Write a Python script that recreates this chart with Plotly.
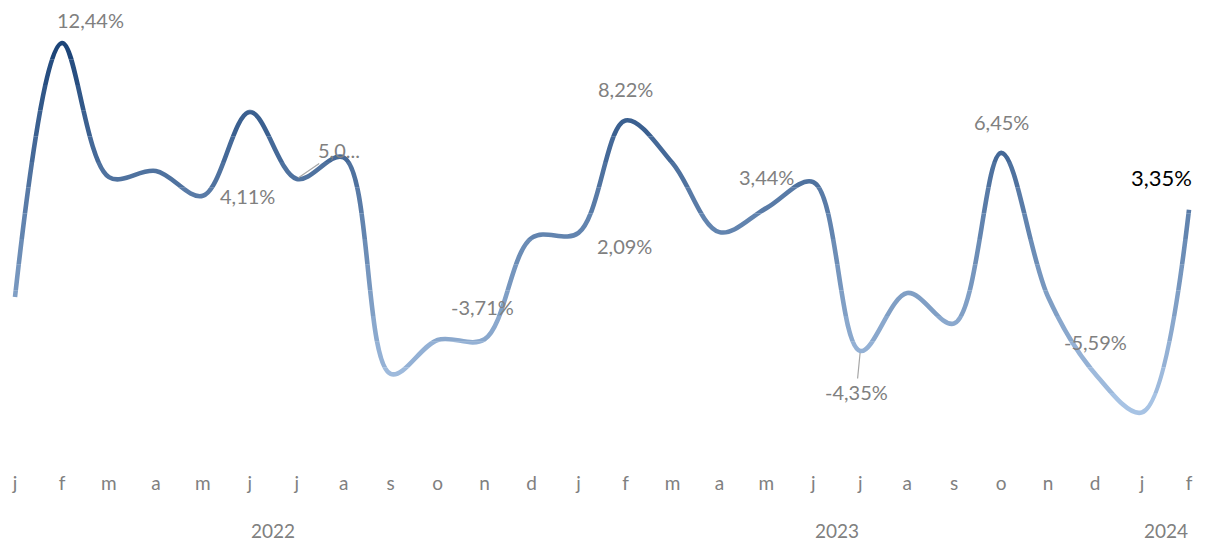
import plotly.graph_objects as go

# ---- data ----
months = ["j", "f", "m", "a", "m", "j", "j", "a", "s", "o", "n", "d",
          "j", "f", "m", "a", "m", "j", "j", "a", "s", "o", "n", "d",
          "j", "f"]
years = ["2022", "2023", "2024"]
year_month_counts = [12, 12, 2]
values = [-1.41, 12.44, 5.13, 5.46, 4.11, 8.68, 5.03, 6.20, -5.60, -3.75,
          -3.71, 1.81, 2.09, 8.22, 5.90, 2.13, 3.44, 4.86, -4.35, -1.19,
          -2.85, 6.45, -1.41, -5.59, -7.70, 3.35]
label_text = {1: "12,44%", 4: "4,11%", 6: "5,0...", 10: "-3,71%", 12: "2,09%",
              13: "8,22%", 16: "3,44%", 18: "-4,35%", 21: "6,45%", 23: "-5,59%",
              25: "3,35%"}
# label offsets in px (dx, dy) and whether a leader line is drawn
label_offset = {1: (29, -23, False), 4: (45, 0, False), 6: (42, -29, True),
                10: (-2, -32, False), 12: (46, 13, False), 13: (0, -31, False),
                16: (0, -31, False), 18: (-4, 41, True), 21: (0, -31, False),
                23: (0, -32, False), 25: (-28, -32, False)}

x = list(range(len(values)))

# ---- axis geometry (page has 8px body margin) ----
W, H = 1215, 535
mb = 73
plot_h = H - mb
px_per_unit = 18.34
zero_px = 263.2
v_top = zero_px / px_per_unit
v_bot = (zero_px - plot_h) / px_per_unit
step = 46.96
x0 = -7 / step
x1 = x0 + W / step

dark = (28, 68, 120)
light = (170, 197, 230)
vmin, vmax = min(values), max(values)


def col(t):
    t = max(0.0, min(1.0, t))
    r = [round(light[i] + (dark[i] - light[i]) * t) for i in range(3)]
    return f"rgb({r[0]},{r[1]},{r[2]})"


fig = go.Figure()
N = 18
d = (v_top - v_bot) / N
layout_axes = {}
for k in range(N):
    lo = v_bot + k * d
    hi = lo + d
    center = (lo + hi) / 2
    t = (center - vmin) / (vmax - vmin)
    yname = "y" if k == 0 else f"y{k + 1}"
    key = "yaxis" if k == 0 else f"yaxis{k + 1}"
    layout_axes[key] = dict(domain=[k / N, (k + 1) / N], range=[lo, hi],
                            visible=False, fixedrange=True, anchor="x")
    fig.add_trace(go.Scatter(
        x=x, y=values, xaxis="x", yaxis=yname, mode="lines",
        line=dict(color=col(t), width=4.6, shape="spline", smoothing=1.0,
                  simplify=False),
        hoverinfo="skip", showlegend=False))

# full-height axis for labels (own subplot, invisible)
lab_y = f"y{N + 1}"
layout_axes[f"yaxis{N + 1}"] = dict(domain=[0, 1], range=[v_bot, v_top],
                                    visible=False, anchor="x",
                                    fixedrange=True)
fig.add_trace(go.Scatter(x=[x[0]], y=[values[0]], xaxis="x", yaxis=lab_y,
                         mode="markers", marker=dict(opacity=0),
                         hoverinfo="skip", showlegend=False))
fig.update_layout(**layout_axes)

annotations = []
for i, txt in label_text.items():
    dx, dy, leader = label_offset[i]
    is_last = i == len(values) - 1
    font = dict(family="Lato", size=22 if is_last else 20,
                color="#000000" if is_last else "#808080")
    if leader:
        annotations.append(dict(
            x=x[i], y=values[i], xref="x", yref=lab_y, text=txt,
            showarrow=True, ax=dx, ay=dy, arrowhead=0, arrowwidth=1.2,
            arrowcolor="#a6a6a6", standoff=2, font=font))
    else:
        annotations.append(dict(
            x=x[i], y=values[i], xref="x", yref=lab_y, text=txt,
            showarrow=False, xshift=dx, yshift=-dy, font=font))

# year labels centred under their months
start = 0
for yr, cnt in zip(years, year_month_counts):
    cx = start + (cnt - 1) / 2
    annotations.append(dict(
        x=cx, y=0, xref="x", yref="paper", yshift=-60, text=yr,
        showarrow=False, yanchor="middle",
        font=dict(family="Lato", size=19, color="#808080")))
    start += cnt

fig.update_layout(
    width=W, height=H,
    margin=dict(l=0, r=0, t=0, b=mb),
    paper_bgcolor="white", plot_bgcolor="rgba(0,0,0,0)",
    xaxis=dict(range=[x0, x1], tickmode="array", tickvals=x, ticktext=months,
               showgrid=False, zeroline=False, showline=False, ticks="",
               tickfont=dict(family="Lato", size=19, color="#808080"),
               fixedrange=True),
    annotations=annotations,
    showlegend=False,
)

fig.write_html("out.html")
